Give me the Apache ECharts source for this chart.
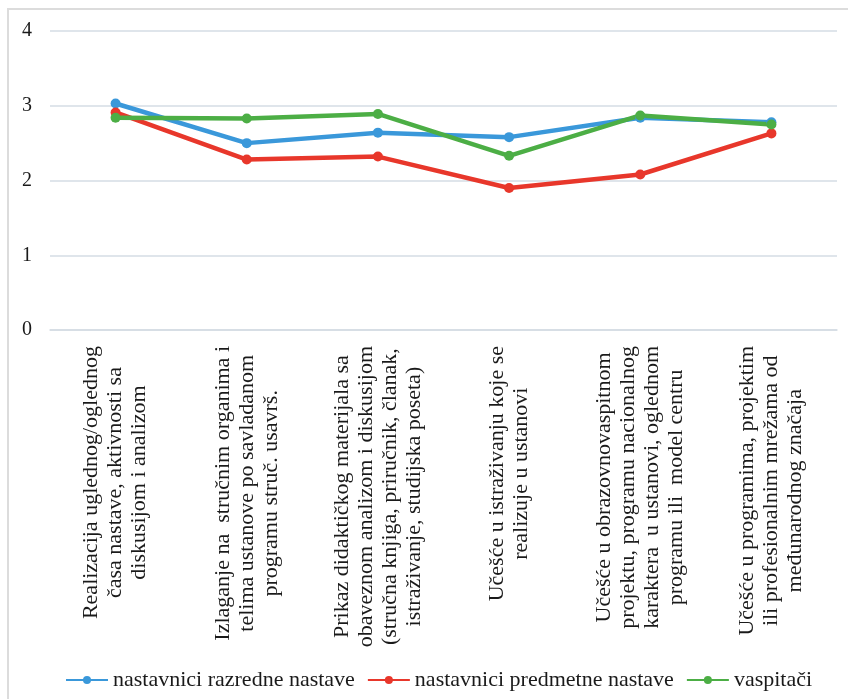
<!DOCTYPE html>
<html>
<head>
<meta charset="utf-8">
<script src="https://cdn.jsdelivr.net/npm/echarts@6/dist/echarts.min.js"></script>
<style>
  html, body { margin: 0; padding: 0; background: #fff; }
  #chart { width: 848px; height: 699px; }
</style>
</head>
<body>
<div id="chart"></div>
<script>
const categories = [
  "Realizacija uglednog/oglednog\nčasa nastave, aktivnosti sa\ndiskusijom i analizom",
  "Izlaganje na  stručnim organima i\ntelima ustanove po savladanom\nprogramu struč. usavrš.",
  "Prikaz didaktičkog materijala sa\nobaveznom analizom i diskusijom\n(stručna knjiga, priručnik, članak,\nistraživanje, studijska poseta)",
  "Učešće u istraživanju koje se\nrealizuje u ustanovi",
  "Učešće u obrazovnovaspitnom\nprojektu, programu nacionalnog\nkaraktera  u ustanovi, oglednom\nprogramu ili  model centru",
  "Učešće u programima, projektim\nili profesionalnim mrežama od\nmeđunarodnog značaja"
];
const seriesNames = ["nastavnici razredne nastave", "nastavnici predmetne nastave", "vaspitači"];
const razredne = [3.03, 2.50, 2.64, 2.58, 2.84, 2.78];
const predmetne = [2.91, 2.28, 2.32, 1.90, 2.08, 2.63];
const vaspitaci = [2.84, 2.83, 2.89, 2.33, 2.87, 2.75];
const yTicks = [0, 1, 2, 3, 4];

const FONT = 'Liberation Serif';
const colors = ['#3a98da', '#e8372b', '#4cae45'];

const chart = echarts.init(document.getElementById('chart'));

function mkSeries(name, data, color) {
  return {
    name: name,
    type: 'line',
    data: data,
    symbol: 'circle',
    symbolSize: 10,
    lineStyle: { width: 4.5, color: color },
    itemStyle: { color: color },
    emphasis: { disabled: true },
    animation: false
  };
}

chart.setOption({
  animation: false,
  backgroundColor: '#ffffff',
  graphic: [{
    type: 'rect',
    shape: { x: 8, y: 9, width: 900, height: 800 },
    style: { fill: 'none', stroke: '#dcdcdc', lineWidth: 2 },
    silent: true,
    z: -10
  }],
  grid: { left: 50, right: 11, top: 31, bottom: 369 },
  legend: {
    left: 60,
    top: 664,
    itemWidth: 42,
    itemHeight: 10,
    itemGap: 12,
    textStyle: { fontFamily: FONT, fontSize: 22, color: '#1a1a1a' },
    data: seriesNames
  },
  xAxis: {
    type: 'category',
    data: categories,
    boundaryGap: true,
    axisLine: { show: true, lineStyle: { color: '#d5dce4', width: 1.5 } },
    axisTick: { show: false },
    axisLabel: {
      interval: 0,
      rotate: 90,
      margin: 16,
      fontFamily: FONT,
      fontSize: 22,
      lineHeight: 24,
      color: '#1a1a1a',
      formatter: function (v) {
        return v.split('\n').map(function (l) { return '{c|' + l + '}'; }).join('\n');
      },
      rich: {
        c: { align: 'center', fontFamily: FONT, fontSize: 22, lineHeight: 24, color: '#1a1a1a' }
      }
    }
  },
  yAxis: {
    type: 'value',
    min: yTicks[0],
    max: yTicks[yTicks.length - 1],
    interval: 1,
    axisLine: { show: false },
    axisTick: { show: false },
    splitLine: { show: true, lineStyle: { color: '#d5dce4', width: 1.5 } },
    axisLabel: {
      margin: 18,
      fontFamily: FONT,
      fontSize: 20,
      color: '#1a1a1a',
      formatter: function (v) { return yTicks.indexOf(v) >= 0 ? String(v) : ''; }
    }
  },
  series: [
    mkSeries(seriesNames[0], razredne, colors[0]),
    mkSeries(seriesNames[1], predmetne, colors[1]),
    mkSeries(seriesNames[2], vaspitaci, colors[2])
  ]
});
</script>
</body>
</html>
